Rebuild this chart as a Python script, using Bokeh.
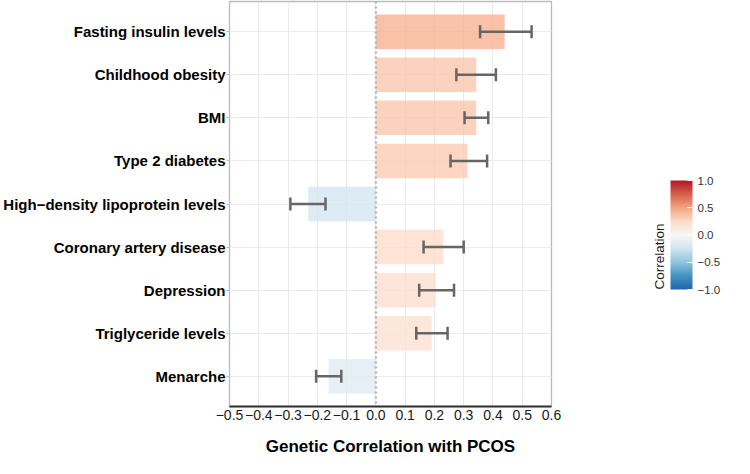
import numpy as np
from bokeh.plotting import figure
from bokeh.models import (ColumnDataSource, FactorRange, Range1d, LinearColorMapper, ColorBar,
                          FixedTicker, Whisker, TeeHead, LabelSet, Span)
from bokeh.embed import file_html
from bokeh.resources import INLINE

# ---- data ----
traits = ["Fasting insulin levels", "Childhood obesity", "BMI", "Type 2 diabetes",
          "High\u2212density lipoprotein levels", "Coronary artery disease", "Depression",
          "Triglyceride levels", "Menarche"]
rg = [0.44, 0.343, 0.343, 0.313, -0.231, 0.23, 0.205, 0.191, -0.162]
lower = [0.356, 0.275, 0.303, 0.255, -0.292, 0.163, 0.148, 0.138, -0.204]
upper = [0.532, 0.41, 0.384, 0.38, -0.172, 0.30, 0.267, 0.245, -0.118]
pvals = ["5.3e\u221207", "2.4e\u221207", "8.2e\u221218", "7.8e\u221206", "7.4e\u221205",
         "8.9e\u221204", "4.0e\u221204", "3.0e\u221204", "1.7e\u221204"]
xticks = [-0.5, -0.4, -0.3, -0.2, -0.1, 0.0, 0.1, 0.2, 0.3, 0.4, 0.5, 0.6]
xtick_labels = ["\u22120.5", "\u22120.4", "\u22120.3", "\u22120.2", "\u22120.1", "0.0",
                "0.1", "0.2", "0.3", "0.4", "0.5", "0.6"]
cb_ticks = [-1.0, -0.5, 0.0, 0.5, 1.0]
cb_labels = ["\u22121.0", "\u22120.5", "0.0", "0.5", "1.0"]
legend_title = "Correlation"

FONT = "Liberation Sans"

# diverging palette (RdBu)
anchors = ["#2166AC", "#4393C3", "#92C5DE", "#D1E5F0", "#F7F7F7",
           "#FDDBC7", "#F4A582", "#D6604D", "#B2182B"]
rgb = np.array([[int(c[i:i + 2], 16) for i in (1, 3, 5)] for c in anchors], dtype=float)
pos = np.linspace(0, 1, len(anchors))
tt = np.linspace(0, 1, 256)
pal = ["#%02x%02x%02x" % tuple(int(round(np.interp(t, pos, rgb[:, k]))) for k in range(3)) for t in tt]
mapper = LinearColorMapper(palette=pal, low=-1, high=1)

source = ColumnDataSource(dict(trait=traits, rg=rg, lower=lower, upper=upper,
                               ptext=["p = " + s for s in pvals]))

p = figure(width=734, height=458, output_backend="svg", toolbar_location=None,
           y_range=FactorRange(factors=list(reversed(traits)), range_padding=0.2,
                               range_padding_units="absolute"),
           x_range=Range1d(-0.5, 0.6),
           min_border_left=223, min_border_right=183, min_border_top=1, min_border_bottom=50)

p.hbar(y="trait", left=0, right="rg", height=0.8, source=source,
       fill_color={"field": "rg", "transform": mapper}, fill_alpha=0.8, line_color=None)

p.add_layout(Span(location=0, dimension="height", line_color="#B5B5B5",
                  line_dash="2 3", line_width=2.5))

w = Whisker(source=source, base="trait", lower="lower", upper="upper", dimension="width",
            line_color="#666666", line_width=2.5, level="overlay",
            upper_head=TeeHead(size=13, line_color="#666666", line_width=2.5),
            lower_head=TeeHead(size=13, line_color="#666666", line_width=2.5))
p.add_layout(w)

labels = LabelSet(x=0.6, y="trait", text="ptext", source=source, x_offset=13,
                  text_align="left", text_baseline="middle", text_font_size="13px",
                  text_font=FONT, text_color="#1A1A1A")
p.add_layout(labels)

# axes
p.xaxis.ticker = FixedTicker(ticks=xticks)
p.xaxis.major_label_overrides = dict(zip(xticks, xtick_labels))
p.xaxis.axis_label = "Genetic Correlation with PCOS"
p.xaxis.axis_label_text_font = FONT
p.xaxis.axis_label_text_font_style = "bold"
p.xaxis.axis_label_text_font_size = "17px"
p.xaxis.axis_label_text_color = "#000000"
p.xaxis.axis_label_standoff = 14
p.xaxis.major_label_text_font = FONT
p.xaxis.major_label_text_font_size = "14px"
p.xaxis.major_label_text_color = "#1A1A1A"
p.xaxis.major_label_standoff = 3
p.xaxis.axis_line_color = "#333333"
p.xaxis.axis_line_width = 2
p.xaxis.major_tick_out = 0
p.xaxis.major_tick_in = 0
p.xaxis.minor_tick_line_color = None

p.yaxis.major_label_text_font = FONT
p.yaxis.major_label_text_font_style = "bold"
p.yaxis.major_label_text_font_size = "15px"
p.yaxis.major_label_text_color = "#000000"
p.yaxis.major_label_standoff = 1
p.yaxis.axis_line_color = None
p.yaxis.major_tick_out = 3
p.yaxis.major_tick_in = 0
p.yaxis.major_tick_line_color = "#BBBBBB"

p.xgrid.ticker = FixedTicker(ticks=xticks)
p.xgrid.grid_line_color = "#EBEBEB"
p.ygrid.grid_line_color = "#EBEBEB"
p.outline_line_color = "#BBBBBB"
p.outline_line_width = 1.3

cb = ColorBar(color_mapper=mapper, location=(416, 117), width=22, height=109,
              padding=0, margin=0,
              title=legend_title, title_text_font=FONT, title_text_font_size="13.5px",
              title_text_font_style="normal", title_text_color="#1A1A1A", title_standoff=8,
              ticker=FixedTicker(ticks=cb_ticks),
              major_label_overrides=dict(zip(cb_ticks, cb_labels)),
              major_label_text_font=FONT, major_label_text_font_size="11.5px",
              major_label_text_color="#333333", label_standoff=5,
              major_tick_line_color="white", major_tick_in=5, major_tick_out=0,
              minor_tick_line_color=None, bar_line_color=None,
              background_fill_color=None, border_line_color=None)
p.add_layout(cb)

open("out.html", "w").write(file_html(p, INLINE))
